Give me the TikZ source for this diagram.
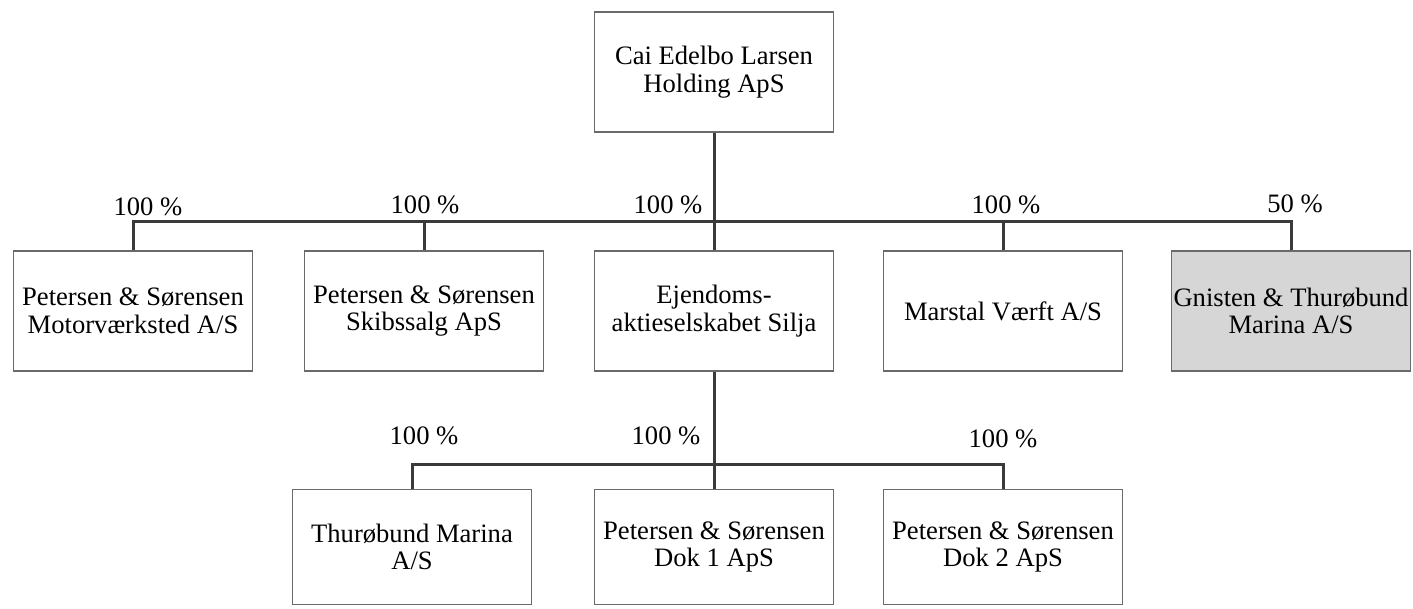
\documentclass[tikz,border=0pt]{standalone}
\usepackage{fontspec}
\setmainfont{Liberation Serif}
\usetikzlibrary{positioning, calc}
\definecolor{linegray}{HTML}{3A3A3A}
\definecolor{boxgray}{HTML}{6A6A6A}
\definecolor{fillgray}{HTML}{D6D6D6}
\tikzset{
	company/.style = {draw = boxgray, line width = 0.9pt, rectangle, align = center, inner sep = 1pt,
		minimum width = 119.5pt, minimum height = 60pt, font = \fontsize{13.3}{13.8}\selectfont},
	owned/.style = {company, fill = fillgray},
	share/.style = {inner sep = 0pt, font = \fontsize{13.3}{13.8}\selectfont},
	conn/.style = {draw = linegray, line width = 1.5pt}
}

\begin{document}
\begin{tikzpicture}[x = 0.5pt, y = -0.5pt]
		\useasboundingbox (0, 0) rectangle (1413, 609);

		\node [company] (holding) at (714, 72) {Cai Edelbo Larsen\\Holding ApS};

		\node [company] (motor) at (133, 311) {Petersen \& Sørensen\\Motorværksted A/S};
		\node [company] (skibs) at (424, 311) {Petersen \& Sørensen\\Skibssalg ApS};
		\node [company] (silja) at (714, 311) {Ejendoms-\\aktieselskabet Silja};
		\node [company] (marstal) at (1003, 311) {Marstal Værft A/S};
		\node [owned, minimum width = 116.5pt] (gnisten) at (1291, 311) {Gnisten \& Thurøbund\\Marina A/S};

		\node [company, minimum height = 57.5pt] (thuro) at (412, 547) {Thurøbund Marina\\A/S};
		\node [company, minimum height = 57.5pt] (dok1) at (714, 547) {Petersen \& Sørensen\\Dok 1 ApS};
		\node [company, minimum height = 57.5pt] (dok2) at (1003, 547) {Petersen \& Sørensen\\Dok 2 ApS};

		\coordinate (busA) at (714, 222);
		\coordinate (busB) at (714, 464);

		% first level
		\draw [conn] (holding) -- (silja);
		\draw [conn] (motor.north) -- (motor.north |- busA) -- (gnisten.north |- busA) -- (gnisten.north);
		\draw [conn] (skibs.north) -- (skibs.north |- busA);
		\draw [conn] (marstal.north) -- (marstal.north |- busA);

		% second level
		\draw [conn] (silja) -- (dok1);
		\draw [conn] (thuro.north) -- (thuro.north |- busB) -- (dok2.north |- busB) -- (dok2.north);

		\node [share] (pmotor) at (148, 207) {100 \%};
		\node [share] (pskibs) at (425, 205) {100 \%};
		\node [share] (psilja) at (668, 205) {100 \%};
		\node [share] (pmarstal) at (1006, 205) {100 \%};
		\node [share] (pgnisten) at (1295, 204) {50 \%};

		\node [share] (pthuro) at (424, 436) {100 \%};
		\node [share] (pdok1) at (666, 436) {100 \%};
		\node [share] (pdok2) at (1003, 439) {100 \%};
	\end{tikzpicture}
\end{document}
